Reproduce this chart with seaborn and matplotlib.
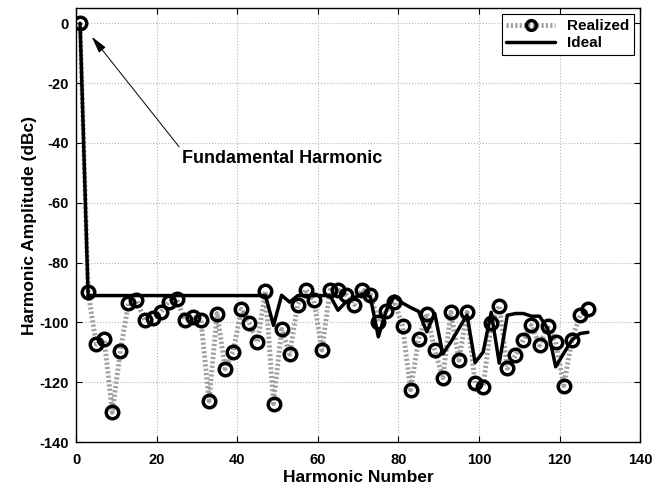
import numpy as np
import pandas as pd
import seaborn as sns
import matplotlib.pyplot as plt
from matplotlib.lines import Line2D

# odd harmonics 1..127
harmonics = list(range(1, 128, 2))

realized = [
    0, -89.8, -107.2, -105.6, -130, -109.5, -93.5, -92.5, -99.2, -98.5,
    -96.6, -93, -92.2, -99.2, -98, -99.3, -126.2, -97, -115.5, -109.7,
    -95.6, -100.2, -106.6, -89.6, -127.1, -102.3, -110.6, -94, -89, -92.6,
    -109.2, -89.2, -89, -90.7, -94, -89, -90.7, -99.9, -96.2, -93.1,
    -101.2, -122.5, -105.5, -97.1, -109.2, -118.4, -96.6, -112.6, -96.6, -120.3,
    -121.6, -100.3, -94.4, -115.3, -111, -105.7, -101, -107.6, -101.3, -106.5,
    -121.1, -105.9, -97.6, -95.6,
]

ideal = [
    0, -91, -91, -91, -91, -91, -91, -91, -91, -91,
    -91, -91, -91, -91, -91, -91, -91, -91, -91, -91,
    -91, -91, -91, -91, -101, -90.9, -93.2, -91, -91, -91,
    -91, -91, -95.9, -93.1, -91.7, -90.5, -91.4, -104.8, -95.9, -91.2,
    -93.5, -95, -96.3, -103.1, -97, -110.5, -106.5, -102, -97.5, -113.4,
    -109.9, -96.6, -113.6, -97.6, -97, -97, -97.9, -97.9, -102, -114.8,
    -110.3, -105.9, -103.7, -103.3,
]

df = pd.DataFrame({"harmonic": harmonics, "realized": realized, "ideal": ideal})

sns.set_style("ticks", {"text.color": "black", "axes.labelcolor": "black",
                        "xtick.color": "black", "ytick.color": "black",
                        "axes.edgecolor": "black"})
plt.rcParams["font.family"] = ["Liberation Sans", "DejaVu Sans"]
plt.rcParams["font.weight"] = "bold"
plt.rcParams["axes.unicode_minus"] = False

fig = plt.figure(figsize=(6.67, 4.87), dpi=100)
ax = fig.add_axes([0.114, 0.092, 0.846, 0.891])

dots = (0, (0.45, 0.45))
sns.lineplot(data=df, x="harmonic", y="realized", ax=ax, color="#a0a0a0",
             linestyle=dots, linewidth=3.5, marker="o", markersize=9,
             markerfacecolor="none", markeredgecolor="black", markeredgewidth=2.5)
sns.lineplot(data=df, x="harmonic", y="ideal", ax=ax, color="black", linewidth=2.5)

ax.set_xlim(0, 140)
ax.set_ylim(-140, 5)
ax.set_xticks(range(0, 141, 20))
ax.set_yticks(range(-140, 1, 20))
ax.grid(True, linestyle=":", color="#b4b4b4", linewidth=0.8)
ax.tick_params(direction="in", top=True, right=True, labelsize=10.5, length=4)
ax.tick_params(axis="x", pad=8)
ax.tick_params(axis="y", pad=5)
for lab in ax.get_xticklabels() + ax.get_yticklabels():
    lab.set_fontweight("bold")
for s in ax.spines.values():
    s.set_linewidth(1.0)

ax.set_xlabel("Harmonic Number", fontsize=12.5, fontweight="bold", labelpad=2)
ax.set_ylabel("Harmonic Amplitude (dBc)", fontsize=12.5, fontweight="bold", labelpad=2)

ax.annotate("Fundamental Harmonic", xy=(3.9, -4.5), xytext=(26.2, -45.2),
            ha="left", va="center", fontsize=13, fontweight="bold",
            arrowprops=dict(arrowstyle="-|>,head_length=0.8,head_width=0.2",
                            color="black", lw=0.7, relpos=(0, 1), shrinkA=0, shrinkB=0))

handles = [
    Line2D([], [], color="#a0a0a0", linestyle=dots, linewidth=3.5, marker="o", markersize=7,
           markerfacecolor="none", markeredgecolor="black", markeredgewidth=2.5),
    Line2D([], [], color="black", linewidth=2.5),
]
leg = ax.legend(handles, ["Realized", "Ideal"], loc="upper right", fontsize=11,
                frameon=True, fancybox=False, edgecolor="black", framealpha=1,
                borderaxespad=0.4, handlelength=3.2, labelspacing=0.2, borderpad=0.3)
leg.get_frame().set_linewidth(0.8)
for t in leg.get_texts():
    t.set_fontweight("bold")

fig.savefig("out.png", dpi=100)
